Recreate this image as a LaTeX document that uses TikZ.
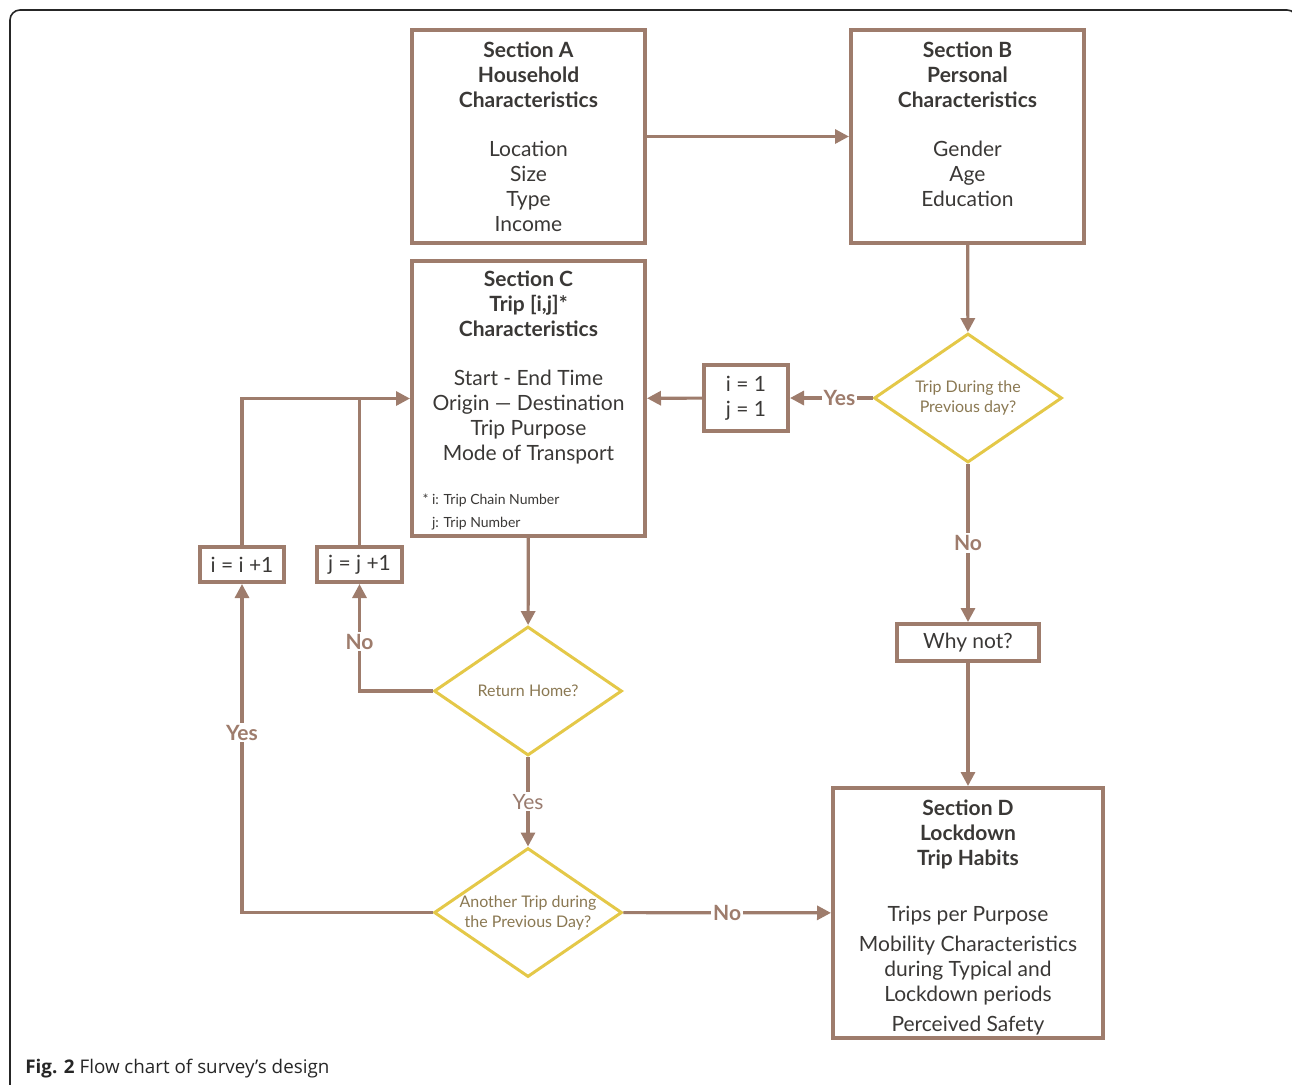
\documentclass[tikz,border=0pt]{standalone}
\usepackage{fontspec}
\setmainfont{Lato}
\newfontfamily\capfont{Open Sans}
\usetikzlibrary{shapes.geometric,arrows.meta}
\definecolor{khung}{RGB}{158,124,108}
\definecolor{vang}{RGB}{228,200,72}
\definecolor{chu}{RGB}{58,56,54}
\definecolor{chuvang}{RGB}{138,120,82}
\newcommand{\tde}[1]{\textbf{#1}}
\newcommand{\hathap}[2]{\raisebox{#1}[\height][\depth]{\begin{tabular}{@{}c@{}}#2\end{tabular}}}
\begin{document}
\begin{tikzpicture}[>={Triangle[length=7pt,width=7pt]},x=0.5pt,y=-0.5pt,
	khungbox/.style={draw=khung,line width=2pt,align=center,text=chu,inner sep=2pt,
		font=\fontsize{10.5}{12.5}\selectfont},
	hoi/.style={diamond,aspect=1.46,draw=vang,line width=1.5pt,align=center,text=chuvang,inner sep=-4pt,
		minimum width=94pt,minimum height=64.5pt,font=\fontsize{8}{10}\selectfont},
	duong/.style={draw=khung,line width=1.6pt},
	lab/.style={fill=white,inner sep=1pt,text=khung,font=\fontsize{10.5}{12}\selectfont\bfseries},
	labthuong/.style={fill=white,inner sep=1pt,text=khung!85!gray,font=\fontsize{10.5}{12}\selectfont}]
	\useasboundingbox (0,0) rectangle (1292,1084);
	%Khung ngoai
	\begin{scope}
	\clip (0,0) rectangle (1292,1084);
	\draw[rounded corners=5pt,line width=0.8pt,black!85] (10,10) rectangle (1297,1110);
	\end{scope}
	%Section A, B
	\node[khungbox,minimum width=116.5pt,minimum height=106.5pt] (A) at (528.5,136.5) {\tde{Section A}\\ \tde{Household}\\ \tde{Characteristics}\\[12pt] Location\\ Size\\ Type\\ Income};
	\node[khungbox,minimum width=116.5pt,minimum height=106.5pt] (B) at (967.5,136.5) {\tde{Section B}\\ \tde{Personal}\\ \tde{Characteristics}\\[12pt] Gender\\ Age\\ Education\\ \mbox{}};
	%Section C
	\node[khungbox,minimum width=116.5pt,minimum height=137.5pt] (C) at (528.5,398.5) {\hathap{-1.5pt}{\tde{Section C}\\ \tde{Trip [i,j]*}\\ \tde{Characteristics}\\[12pt] Start - End Time\\ Origin \textemdash\ Destination\\ Trip Purpose\\ Mode of Transport\\[9.5pt] \makebox[106pt][l]{\fontsize{7}{9}\selectfont * i: Trip Chain Number}\\[-1pt] \makebox[106pt][l]{\fontsize{7}{9}\selectfont \phantom{* }j: Trip Number}}};
	%Section D
	\node[khungbox,minimum width=135pt,minimum height=125pt] (D) at (968,913) {\hathap{-2.5pt}{\tde{Section D}\\ \tde{Lockdown}\\ \tde{Trip Habits}\\[15.5pt] Trips per Purpose\\[2.5pt] Mobility Characteristics\\ during Typical and\\ Lockdown periods\\[2.5pt] Perceived Safety}};
	%Khung nho
	\node[khungbox,minimum width=42pt,minimum height=33pt] (ij1) at (746,398) {i = 1\\ j = 1};
	\node[khungbox,minimum width=42pt,minimum height=17.5pt] (ii) at (242,564.5) {i = i +1};
	\node[khungbox,minimum width=42.5pt,minimum height=17.5pt] (jj) at (359.5,564.5) {j = j +1};
	\node[khungbox,minimum width=71pt,minimum height=18.5pt] (why) at (968,642.5) {Why not?};
	%Cau hoi
	\node[hoi] (d1) at (968,398) {Trip During the\\ Previous day?};
	\node[hoi] (dret) at (528,691) {Return Home?};
	\node[hoi] (dano) at (528,912.5) {Another Trip during\\ the Previous Day?};
	%Mui ten
	\draw[duong,->] (A) -- (B);
	\draw[duong,->] (B) -- (d1);
	\draw[duong,->] (d1) -- node[lab,pos=0.4]{Yes} (ij1);
	\draw[duong,->] (ij1) -- (C);
	\draw[duong,->] (d1) -- node[lab]{No} (why);
	\draw[duong,->] (why) -- (D);
	\draw[duong,->] (C) -- (dret);
	\draw[duong,->] (dret.west) -| node[lab,pos=0.73]{No} (jj.south);
	\draw[duong] (jj.north) -- (jj.north |- C.west);
	\draw[duong,->] (ii.north) |- (C.west);
	\draw[duong,->] (dret) -- node[labthuong]{Yes} (dano);
	\draw[duong,->] (dano.west) -| node[lab,pos=0.774]{Yes} (ii.south);
	\draw[duong,->] (dano) -- node[lab]{No} (D);
	%Chu thich
	\node[anchor=base west,inner sep=0pt,text=black!85,font=\capfont\fontsize{9.4}{11}\selectfont] (cap) at (25,1073) {\textbf{Fig. 2} Flow chart of survey’s design};
\end{tikzpicture}
\end{document}
